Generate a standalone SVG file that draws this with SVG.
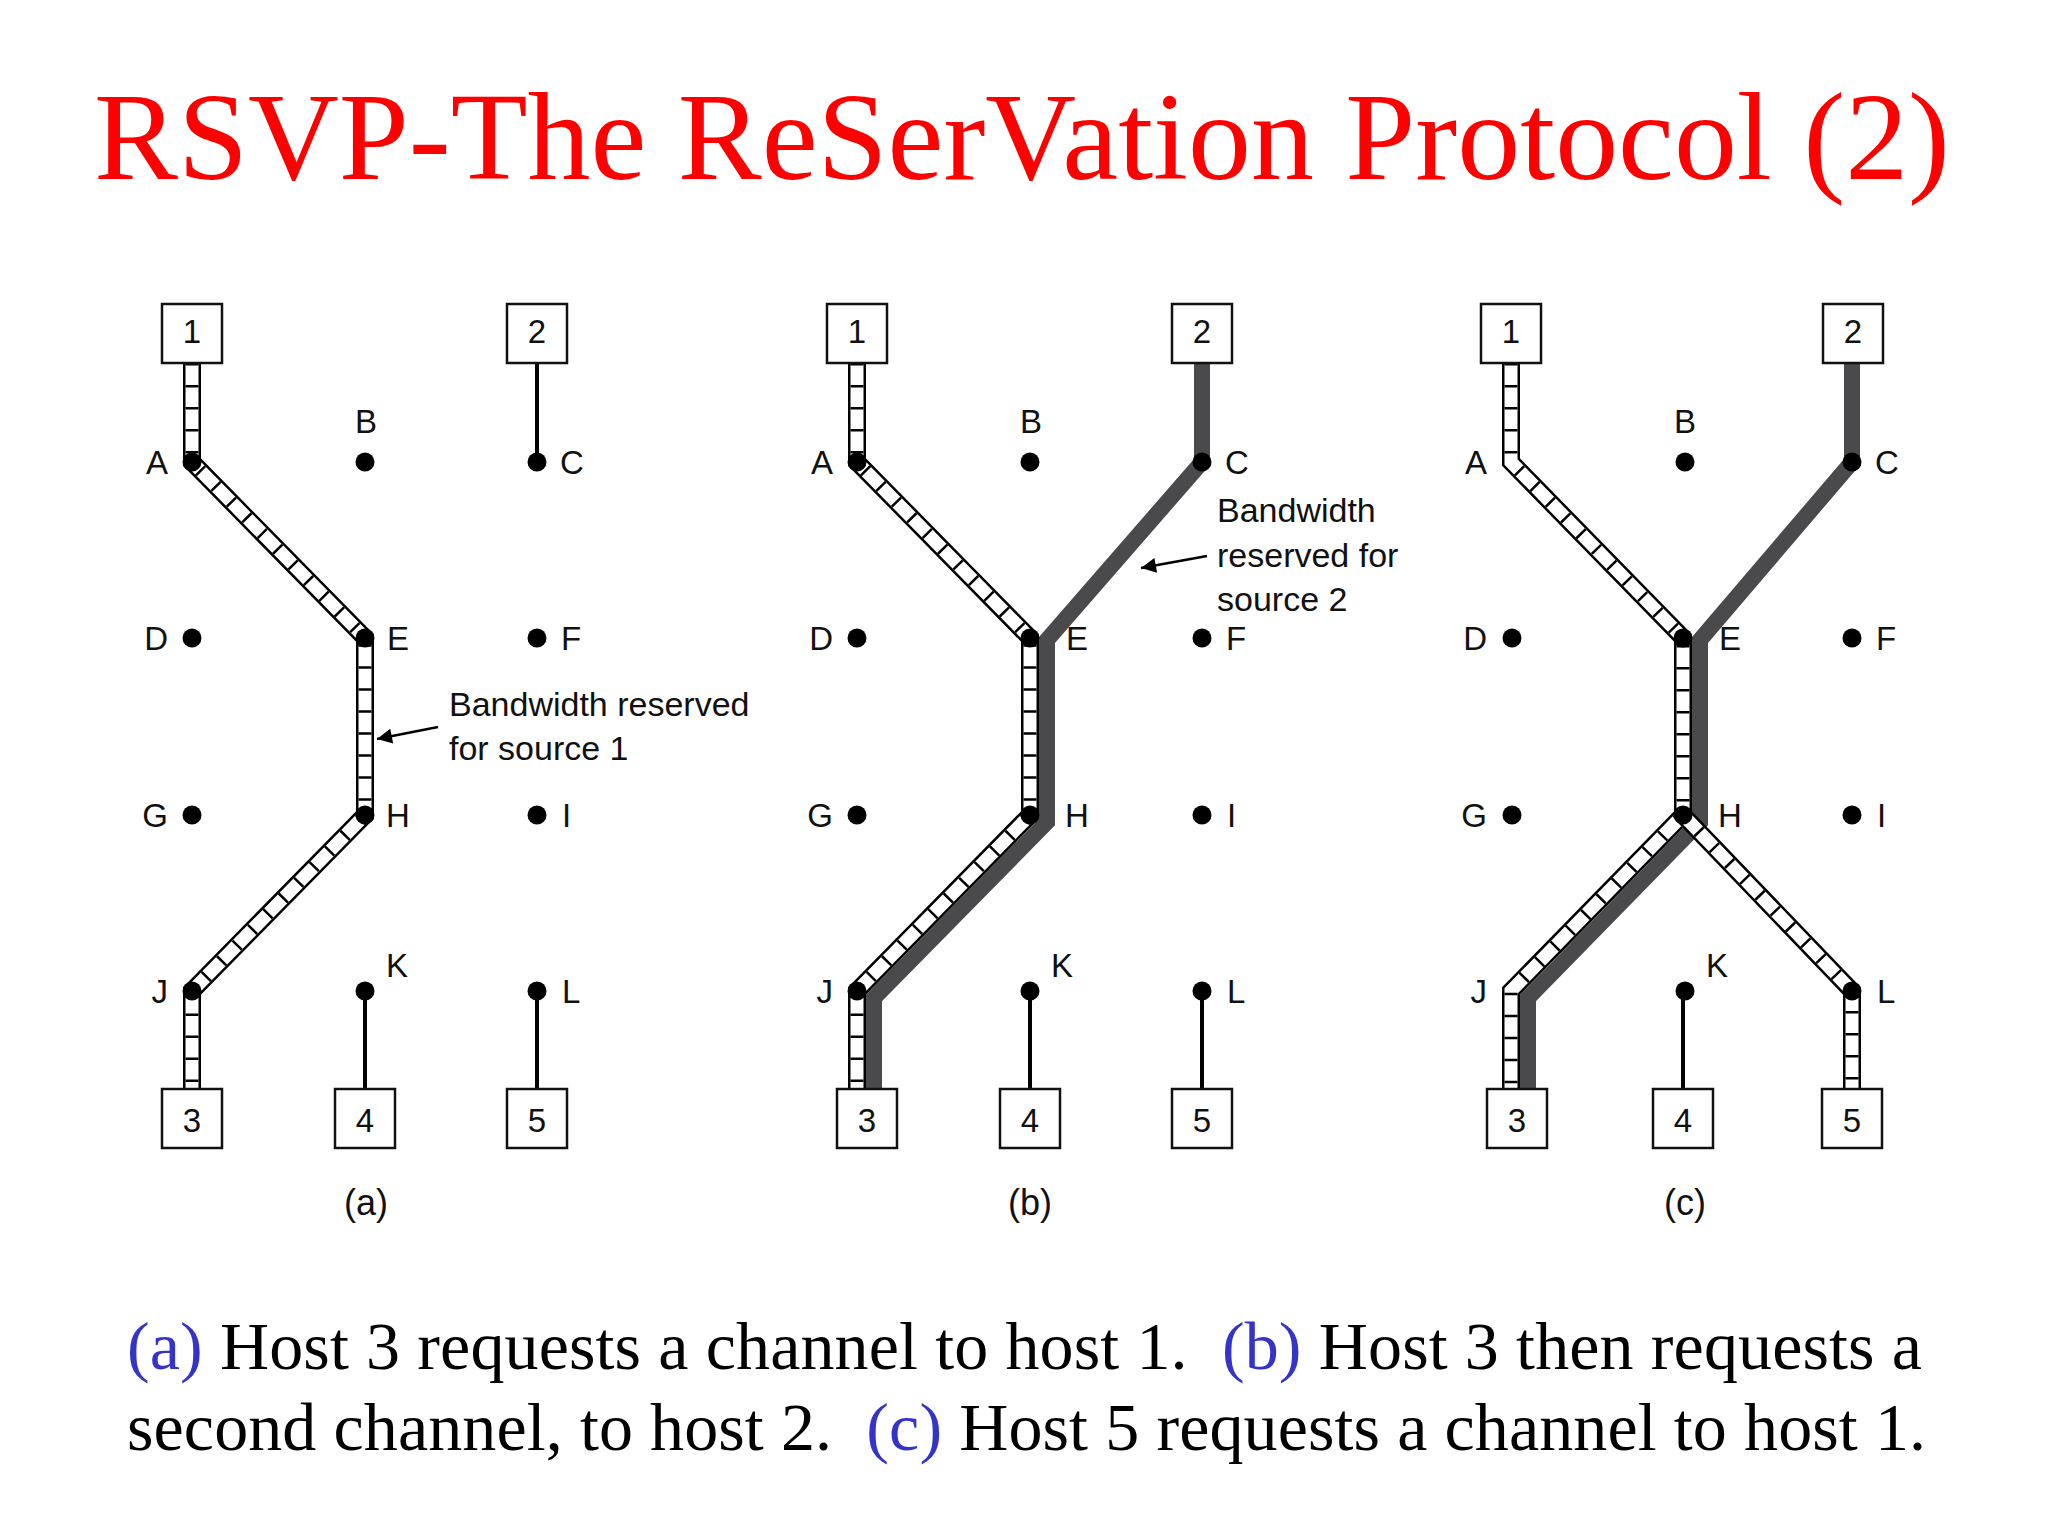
<svg xmlns="http://www.w3.org/2000/svg" width="2048" height="1536" viewBox="0 0 2048 1536">
<defs>
<style>
.title{font-family:"Liberation Serif","Times New Roman",serif;font-size:124px;fill:#f00}
.cap{font-family:"Liberation Serif","Times New Roman",serif;font-size:68px;fill:#000;white-space:pre}
.blue{fill:#3434c8}
.lbl{font-family:"Liberation Sans",Arial,sans-serif;font-size:33px;fill:#111}
.ann{font-family:"Liberation Sans",Arial,sans-serif;font-size:34px;fill:#111}
.plab{font-family:"Liberation Sans",Arial,sans-serif;font-size:36px;fill:#111;text-anchor:middle}
.mid{text-anchor:middle}
.end{text-anchor:end}
.box{fill:#fff;stroke:#111;stroke-width:2.5}
.dot{fill:#000}
.wire{stroke:#000;stroke-width:4;fill:none}
.gray{stroke:#4a4a4d;stroke-width:16;fill:none;stroke-linejoin:miter}
.lo{stroke:#000;stroke-width:18;fill:none;stroke-linejoin:miter}
.li{stroke:#fff;stroke-width:13;fill:none;stroke-linejoin:miter}
.lr{stroke:#000;stroke-width:13;fill:none;stroke-dasharray:2.5 19.5}
.arr{stroke:#000;stroke-width:2.5;fill:none}
</style>
<marker id="ah" viewBox="0 0 10 10" refX="10" refY="5" markerWidth="9" markerHeight="6" markerUnits="strokeWidth" orient="auto">
<path d="M0,0 L10,5 L0,10 Z" fill="#000"/>
</marker>
</defs>
<rect width="2048" height="1536" fill="#fff"/>

<text class="title" x="94" y="179" textLength="1856" lengthAdjust="spacingAndGlyphs">RSVP-The ReSerVation Protocol (2)</text>

<!-- connectors -->
<g id="connectors">
<!-- panel a -->
<path class="lo" d="M192,363 L192,462 L365,638 L365,815 L192,991 L192,1089"/>
<path class="li" d="M192,363 L192,462 L365,638 L365,815 L192,991 L192,1089"/>
<path class="lr" d="M192,363 L192,462 L365,638 L365,815 L192,991 L192,1089"/>
<path class="wire" d="M537,363 L537,462 M365,991 L365,1089 M537,991 L537,1089"/>
<path class="arr" d="M438,727 L377,739" marker-end="url(#ah)"/>
<!-- panel b -->
<path class="gray" d="M1202,363 L1202,462 L1047,640 L1047,822 L874,998 L874,1089"/>
<path class="lo" d="M857,363 L857,462 L1030,638 L1030,815 L857,991 L857,1089"/>
<path class="li" d="M857,363 L857,462 L1030,638 L1030,815 L857,991 L857,1089"/>
<path class="lr" d="M857,363 L857,462 L1030,638 L1030,815 L857,991 L857,1089"/>
<path class="wire" d="M1030,991 L1030,1089 M1202,991 L1202,1089"/>
<path class="arr" d="M1207,556 L1141,568" marker-end="url(#ah)"/>
<!-- panel c -->
<path class="gray" d="M1852,363 L1852,462 L1700,640 L1700,822 L1528,998 L1528,1089"/>
<path class="lo" d="M1511,363 L1511,462 L1683,638 L1683,815 L1511,991 L1511,1089"/>
<path class="li" d="M1511,363 L1511,462 L1683,638 L1683,815 L1511,991 L1511,1089"/>
<path class="lr" d="M1511,363 L1511,462 L1683,638 L1683,815 L1511,991 L1511,1089"/>
<path class="lo" d="M1683,815 L1852,991 L1852,1089"/>
<path class="li" d="M1683,815 L1852,991 L1852,1089"/>
<path class="lr" d="M1683,815 L1852,991 L1852,1089"/>
<path class="wire" d="M1683,991 L1683,1089"/>
</g>

<!-- panel a nodes -->
<g id="a-h1"><rect class="box" x="162" y="304" width="60" height="59"/><text class="lbl mid" x="192" y="343">1</text></g>
<g id="a-h2"><rect class="box" x="507" y="304" width="60" height="59"/><text class="lbl mid" x="537" y="343">2</text></g>
<g id="a-h3"><rect class="box" x="162" y="1089" width="60" height="59"/><text class="lbl mid" x="192" y="1132">3</text></g>
<g id="a-h4"><rect class="box" x="335" y="1089" width="60" height="59"/><text class="lbl mid" x="365" y="1132">4</text></g>
<g id="a-h5"><rect class="box" x="507" y="1089" width="60" height="59"/><text class="lbl mid" x="537" y="1132">5</text></g>
<g id="a-A"><circle class="dot" cx="192" cy="462" r="9.5"/><text class="lbl end" x="168" y="474">A</text></g>
<g id="a-B"><circle class="dot" cx="365" cy="462" r="9.5"/><text class="lbl mid" x="366" y="433">B</text></g>
<g id="a-C"><circle class="dot" cx="537" cy="462" r="9.5"/><text class="lbl" x="560" y="474">C</text></g>
<g id="a-D"><circle class="dot" cx="192" cy="638" r="9.5"/><text class="lbl end" x="168" y="650">D</text></g>
<g id="a-E"><circle class="dot" cx="365" cy="638" r="9.5"/><text class="lbl" x="387" y="650">E</text></g>
<g id="a-F"><circle class="dot" cx="537" cy="638" r="9.5"/><text class="lbl" x="561" y="650">F</text></g>
<g id="a-G"><circle class="dot" cx="192" cy="815" r="9.5"/><text class="lbl end" x="168" y="827">G</text></g>
<g id="a-H"><circle class="dot" cx="365" cy="815" r="9.5"/><text class="lbl" x="386" y="827">H</text></g>
<g id="a-I"><circle class="dot" cx="537" cy="815" r="9.5"/><text class="lbl" x="562" y="827">I</text></g>
<g id="a-J"><circle class="dot" cx="192" cy="991" r="9.5"/><text class="lbl end" x="168" y="1003">J</text></g>
<g id="a-K"><circle class="dot" cx="365" cy="991" r="9.5"/><text class="lbl" x="386" y="977">K</text></g>
<g id="a-L"><circle class="dot" cx="537" cy="991" r="9.5"/><text class="lbl" x="562" y="1003">L</text></g>
<g id="a-note"><text class="ann" x="449" y="716">Bandwidth reserved</text><text class="ann" x="449" y="760">for source 1</text></g>
<text class="plab" x="366" y="1215">(a)</text>

<!-- panel b nodes -->
<g id="b-h1"><rect class="box" x="827" y="304" width="60" height="59"/><text class="lbl mid" x="857" y="343">1</text></g>
<g id="b-h2"><rect class="box" x="1172" y="304" width="60" height="59"/><text class="lbl mid" x="1202" y="343">2</text></g>
<g id="b-h3"><rect class="box" x="837" y="1089" width="60" height="59"/><text class="lbl mid" x="867" y="1132">3</text></g>
<g id="b-h4"><rect class="box" x="1000" y="1089" width="60" height="59"/><text class="lbl mid" x="1030" y="1132">4</text></g>
<g id="b-h5"><rect class="box" x="1172" y="1089" width="60" height="59"/><text class="lbl mid" x="1202" y="1132">5</text></g>
<g id="b-A"><circle class="dot" cx="857" cy="462" r="9.5"/><text class="lbl end" x="833" y="474">A</text></g>
<g id="b-B"><circle class="dot" cx="1030" cy="462" r="9.5"/><text class="lbl mid" x="1031" y="433">B</text></g>
<g id="b-C"><circle class="dot" cx="1202" cy="462" r="9.5"/><text class="lbl" x="1225" y="474">C</text></g>
<g id="b-D"><circle class="dot" cx="857" cy="638" r="9.5"/><text class="lbl end" x="833" y="650">D</text></g>
<g id="b-E"><circle class="dot" cx="1030" cy="638" r="9.5"/><text class="lbl" x="1066" y="650">E</text></g>
<g id="b-F"><circle class="dot" cx="1202" cy="638" r="9.5"/><text class="lbl" x="1226" y="650">F</text></g>
<g id="b-G"><circle class="dot" cx="857" cy="815" r="9.5"/><text class="lbl end" x="833" y="827">G</text></g>
<g id="b-H"><circle class="dot" cx="1030" cy="815" r="9.5"/><text class="lbl" x="1065" y="827">H</text></g>
<g id="b-I"><circle class="dot" cx="1202" cy="815" r="9.5"/><text class="lbl" x="1227" y="827">I</text></g>
<g id="b-J"><circle class="dot" cx="857" cy="991" r="9.5"/><text class="lbl end" x="833" y="1003">J</text></g>
<g id="b-K"><circle class="dot" cx="1030" cy="991" r="9.5"/><text class="lbl" x="1051" y="977">K</text></g>
<g id="b-L"><circle class="dot" cx="1202" cy="991" r="9.5"/><text class="lbl" x="1227" y="1003">L</text></g>
<g id="b-note"><text class="ann" x="1217" y="522">Bandwidth</text><text class="ann" x="1217" y="567">reserved for</text><text class="ann" x="1217" y="611">source 2</text></g>
<text class="plab" x="1030" y="1215">(b)</text>

<!-- panel c nodes -->
<g id="c-h1"><rect class="box" x="1481" y="304" width="60" height="59"/><text class="lbl mid" x="1511" y="343">1</text></g>
<g id="c-h2"><rect class="box" x="1823" y="304" width="60" height="59"/><text class="lbl mid" x="1853" y="343">2</text></g>
<g id="c-h3"><rect class="box" x="1487" y="1089" width="60" height="59"/><text class="lbl mid" x="1517" y="1132">3</text></g>
<g id="c-h4"><rect class="box" x="1653" y="1089" width="60" height="59"/><text class="lbl mid" x="1683" y="1132">4</text></g>
<g id="c-h5"><rect class="box" x="1822" y="1089" width="60" height="59"/><text class="lbl mid" x="1852" y="1132">5</text></g>
<g id="c-A"><text class="lbl end" x="1487" y="474">A</text></g>
<g id="c-B"><circle class="dot" cx="1685" cy="462" r="9.5"/><text class="lbl mid" x="1685" y="433">B</text></g>
<g id="c-C"><circle class="dot" cx="1852" cy="462" r="9.5"/><text class="lbl" x="1875" y="474">C</text></g>
<g id="c-D"><circle class="dot" cx="1512" cy="638" r="9.5"/><text class="lbl end" x="1487" y="650">D</text></g>
<g id="c-E"><circle class="dot" cx="1683" cy="638" r="9.5"/><text class="lbl" x="1719" y="650">E</text></g>
<g id="c-F"><circle class="dot" cx="1852" cy="638" r="9.5"/><text class="lbl" x="1876" y="650">F</text></g>
<g id="c-G"><circle class="dot" cx="1512" cy="815" r="9.5"/><text class="lbl end" x="1487" y="827">G</text></g>
<g id="c-H"><circle class="dot" cx="1683" cy="815" r="9.5"/><text class="lbl" x="1718" y="827">H</text></g>
<g id="c-I"><circle class="dot" cx="1852" cy="815" r="9.5"/><text class="lbl" x="1877" y="827">I</text></g>
<g id="c-J"><text class="lbl end" x="1487" y="1003">J</text></g>
<g id="c-K"><circle class="dot" cx="1685" cy="991" r="9.5"/><text class="lbl" x="1706" y="977">K</text></g>
<g id="c-L"><circle class="dot" cx="1852" cy="991" r="9.5"/><text class="lbl" x="1877" y="1003">L</text></g>
<text class="plab" x="1685" y="1215">(c)</text>

<text class="cap" x="127" y="1369" textLength="1795" lengthAdjust="spacing"><tspan class="blue">(a)</tspan> Host 3 requests a channel to host 1.  <tspan class="blue">(b)</tspan> Host 3 then requests a</text>
<text class="cap" x="127" y="1450" textLength="1799" lengthAdjust="spacing">second channel, to host 2.  <tspan class="blue">(c)</tspan> Host 5 requests a channel to host 1.</text>
</svg>
